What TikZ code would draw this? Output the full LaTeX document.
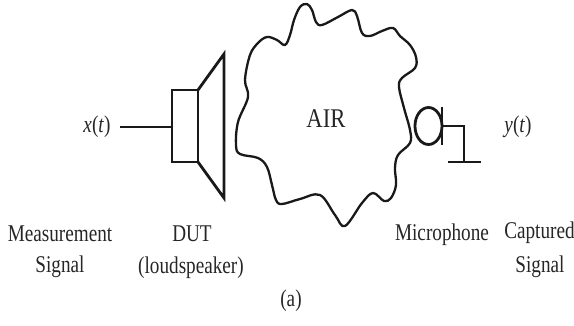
\documentclass[tikz,border=0pt]{standalone}
\usepackage{graphicx}
\usepackage{fontspec}
\setmainfont{Liberation Serif}
\newcommand{\narrowlab}[1]{\scalebox{.8}[1]{#1}}
\begin{document}
\begin{tikzpicture}[x=1pt,y=-1pt,
  ink/.style={draw=black!90,line width=2.8pt,line join=miter},
  thin ink/.style={draw=black!90,line width=2.3pt},
  lbl/.style={inner sep=0pt,text=black!85,font=\fontsize{24}{24}\selectfont}]
\useasboundingbox (0,0) rectangle (574,325);
% labels
\node[lbl] (x) at (97,127) {\narrowlab{\textit{x}(\textit{t})}};
\node[lbl] (y) at (518,127) {\narrowlab{\textit{y}(\textit{t})}};
\node[lbl,font=\fontsize{27}{27}\selectfont] (air) at (326,119) {\scalebox{.84}[1]{AIR}};
\node[lbl] (m1) at (60,234) {\narrowlab{Measurement}};
\node[lbl] (m2) at (60,267) {\narrowlab{Signal}};
\node[lbl] (d1) at (192,234) {\narrowlab{DUT}};
\node[lbl] (d2) at (191,268) {\narrowlab{(loudspeaker)}};
\node[lbl] (mic) at (442,235) {\narrowlab{Microphone}};
\node[lbl] (c1) at (539.5,233) {\narrowlab{Captured}};
\node[lbl] (c2) at (540,267) {\narrowlab{Signal}};
\node[lbl] (a) at (291,301) {\narrowlab{(a)}};
% loudspeaker
\coordinate (in) at (120,127);
\coordinate (boxw) at (172,127);
\coordinate (b1) at (172,90);
\coordinate (b2) at (198,90);
\coordinate (b3) at (198,162);
\coordinate (b4) at (172,162);
\coordinate (c3) at (224,54);
\coordinate (c4) at (224,198);
\draw[ink] (in) -- (boxw);
\draw[ink] (b1) -- (b2) -- (b3) -- (b4) -- cycle;
\draw[ink] (b2) -- (c3) -- (c4) -- (b3);
% air blob
\draw[thin ink,line join=round] plot[smooth cycle,tension=0.6] coordinates {
 (248,97) (245,80) (250,55) (258,43) (267,37) (277,40) (285,45) (290,35) (294,20) (300,7) (307,4) (312,10)
 (316,22) (322,25) (338,17) (352,10) (357,16) (362,33) (370,36) (382,31) (393,28) (400,36) (410,45) (416,57) (415,68)
 (402,78) (399,87) (404,108) (410,130) (410,143) (398,155) (395,168) (396,185) (391,198) (384,201) (373,193)
 (362,203) (345,226) (335,215) (320,195) (300,199) (282,204) (276,200) (272,185) (267,167) (258,158) (240,154) (236,145) (238,122)};
% microphone
\coordinate (mt) at (442,107);
\coordinate (mb) at (442,145);
\coordinate (ms) at (442,126);
\coordinate (mc) at (464,126);
\coordinate (mg) at (464,162);
\coordinate (gl) at (448,162);
\coordinate (gr) at (481,162);
\draw[ink] (mt) -- (mb);
\draw[ink] (428.5,126) ellipse [x radius=13.5,y radius=18.5];
\draw[ink] (ms) -- (mc) -- (mg);
\draw[ink] (gl) -- (gr);
\end{tikzpicture}
\end{document}
